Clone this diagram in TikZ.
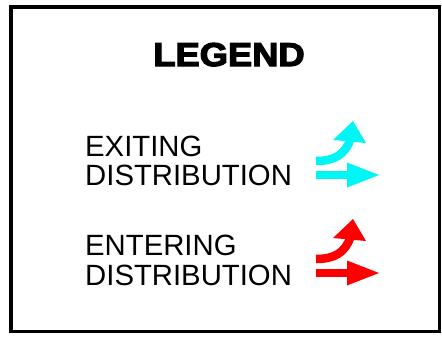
\documentclass[tikz,border=0pt]{standalone}
\usepackage{fontspec}
\usepackage{graphicx}
\setmainfont{Liberation Sans}
\newfontfamily\legendfont[FakeBold=3.5]{Liberation Sans Bold}
\definecolor{exitcol}{RGB}{0,245,245}
\definecolor{entercol}{RGB}{255,0,0}
\tikzset{
  frame/.style={draw=black, line width=3.5pt},
  title/.style={font=\legendfont\fontsize{33}{33}\selectfont, inner sep=0pt, anchor=base},
  label/.style={font=\fontsize{29.3}{29.3}\selectfont, inner sep=0pt, anchor=base west},
  pics/arrowpair/.style={code={
    \draw[#1, line width=8.5pt] (316,161) .. controls (334,161) and (345,155) .. (350.5,139);
    \fill[#1] (333,140) -- (353,121) -- (366,143) -- cycle;
    \draw[#1, line width=7.5pt] (316,175) -- (349,175);
    \fill[#1] (347,162.5) -- (379,175) -- (347,187.5) -- cycle;
  }}
}
\begin{document}
\begin{tikzpicture}[x=1pt, y=-1pt]
\useasboundingbox (0,0) rectangle (442,340);
\fill[white] (0,0) rectangle (442,340);
\draw[frame] (10.75,6.75) rectangle (439.25,331.25);
\node[title] (legend) at (229,66) {\scalebox{1.1}[1]{LEGEND}};
\node[label] (ex1) at (85,156) {EXITING};
\node[label] (ex2) at (85,185) {DISTRIBUTION};
\node[label] (en1) at (85,255) {ENTERING};
\node[label] (en2) at (85,285) {DISTRIBUTION};
\pic at (0,0) {arrowpair={exitcol}};
\pic at (0,98) {arrowpair={entercol}};
\end{tikzpicture}
\end{document}
